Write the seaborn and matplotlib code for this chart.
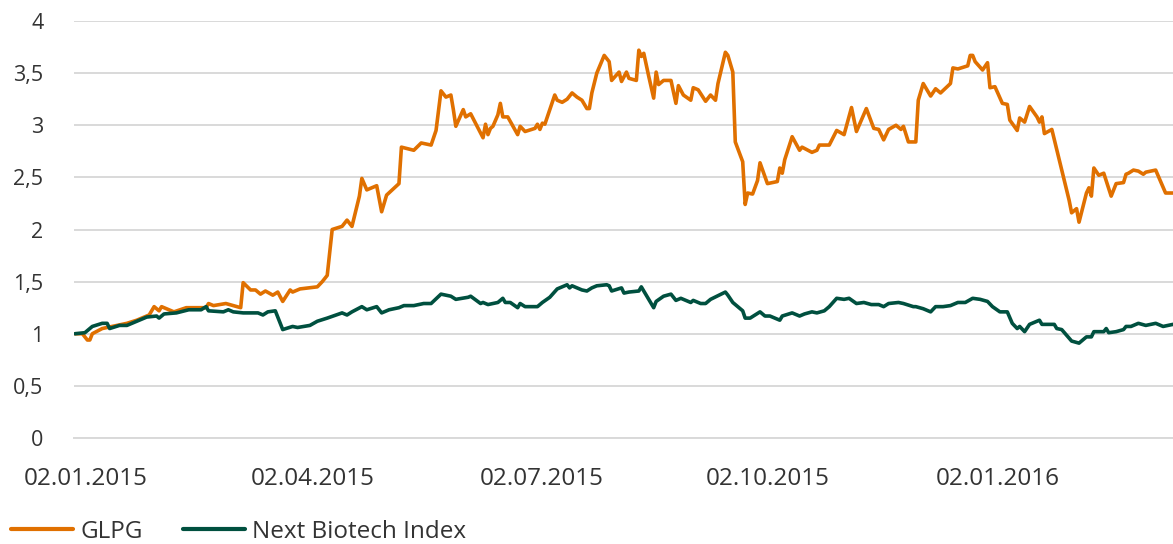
import matplotlib
matplotlib.use("Agg")
import matplotlib.pyplot as plt
import matplotlib.dates as mdates
import matplotlib.transforms as mtransforms
from matplotlib.ticker import FuncFormatter
import seaborn as sns
import pandas as pd

sns.set_style("white")
plt.rcParams['font.family'] = ['Open Sans', 'DejaVu Sans']

start = pd.Timestamp("2015-01-02")

# days since 02.01.2015
glpg_days = [0, 3, 5, 6, 7, 11, 15, 21, 25, 30, 32, 34, 35, 40, 45, 53, 54, 56, 61, 64, 67, 68, 71, 73, 75,
             77, 80, 82, 84, 87, 88, 91, 98, 100, 102, 104, 108, 110, 112, 115, 116, 118, 122, 124, 126,
             131, 132, 137, 140, 144, 146, 148, 150, 152, 153, 154, 157, 158, 160, 165, 166, 167, 168, 169,
             171, 172, 173, 175, 179, 180, 182, 186, 187, 188, 189, 190, 192, 194, 195, 197, 199, 201, 203,
             205, 207, 208, 209, 211, 214, 216, 217, 220, 221, 223, 224, 227, 228, 229, 230, 232, 234, 235,
             236, 238, 241, 243, 244, 246, 249, 250, 252, 255, 257, 259, 260, 263, 264, 266, 267, 270, 271,
             272, 274, 276, 277, 280, 284, 285, 286, 287, 290, 293, 294, 298, 300, 301, 305, 308, 311, 314,
             316, 320, 323, 325, 327, 329, 332, 334, 335, 337, 340, 341, 343, 346, 348, 350, 354, 355, 357,
             361, 362, 363, 364, 367, 369, 370, 372, 375, 377, 378, 381, 382, 384, 386, 389, 390, 391, 392,
             395, 398, 402, 403, 405, 406, 409, 410, 411, 412, 414, 416, 419, 421, 424, 425, 426, 428, 430,
             432, 433, 437, 439, 441, 444]
glpg_vals = [1.00, 1.00, 0.94, 0.94, 1.00, 1.05, 1.07, 1.10, 1.13, 1.18, 1.26, 1.22, 1.26, 1.21, 1.25, 1.25,
             1.29, 1.27, 1.29, 1.27, 1.25, 1.49, 1.42, 1.42, 1.38, 1.41, 1.37, 1.40, 1.31, 1.42, 1.40, 1.43,
             1.45, 1.50, 1.56, 2.00, 2.03, 2.09, 2.03, 2.32, 2.49, 2.38, 2.42, 2.17, 2.33, 2.44, 2.79, 2.76,
             2.83, 2.81, 2.95, 3.33, 3.27, 3.29, 3.15, 2.99, 3.15, 3.08, 3.11, 2.88, 3.01, 2.91, 2.97, 2.99,
             3.10, 3.21, 3.08, 3.08, 2.91, 2.99, 2.94, 2.97, 3.01, 2.96, 3.02, 3.01, 3.15, 3.29, 3.24, 3.22,
             3.25, 3.31, 3.27, 3.24, 3.16, 3.16, 3.31, 3.50, 3.67, 3.61, 3.43, 3.51, 3.42, 3.51, 3.45, 3.43,
             3.72, 3.66, 3.69, 3.47, 3.26, 3.51, 3.39, 3.43, 3.43, 3.21, 3.38, 3.29, 3.24, 3.36, 3.34, 3.23,
             3.29, 3.24, 3.40, 3.70, 3.67, 3.51, 2.84, 2.65, 2.24, 2.35, 2.34, 2.47, 2.64, 2.44, 2.46, 2.59,
             2.54, 2.67, 2.89, 2.76, 2.79, 2.74, 2.76, 2.81, 2.81, 2.95, 2.91, 3.17, 2.94, 3.16, 2.97, 2.96,
             2.86, 2.96, 3.00, 2.96, 2.99, 2.84, 2.84, 3.24, 3.40, 3.28, 3.35, 3.31, 3.40, 3.55, 3.54, 3.57,
             3.67, 3.67, 3.61, 3.53, 3.60, 3.36, 3.37, 3.21, 3.20, 3.05, 2.95, 3.07, 3.03, 3.18, 3.08, 3.03,
             3.08, 2.92, 2.96, 2.67, 2.28, 2.16, 2.20, 2.07, 2.35, 2.40, 2.32, 2.59, 2.52, 2.54, 2.32, 2.44,
             2.45, 2.53, 2.54, 2.57, 2.56, 2.53, 2.55, 2.57, 2.46, 2.35, 2.35]

nbi_days = [0, 4, 7, 11, 13, 14, 18, 21, 26, 29, 33, 34, 36, 41, 46, 51, 53, 54, 60, 62, 64, 68, 74, 76, 78,
            81, 84, 88, 90, 95, 98, 102, 108, 110, 112, 116, 118, 122, 124, 127, 131, 133, 137, 141, 144,
            148, 152, 154, 159, 160, 164, 165, 167, 171, 173, 174, 176, 179, 180, 182, 187, 189, 192, 195,
            199, 200, 201, 205, 207, 209, 211, 215, 216, 217, 221, 222, 224, 228, 229, 231, 234, 235, 238,
            241, 243, 245, 249, 250, 253, 255, 257, 263, 264, 266, 270, 271, 273, 277, 279, 281, 285, 286,
            290, 293, 295, 298, 300, 303, 305, 308, 311, 313, 316, 319, 322, 325, 327, 329, 333, 335, 339,
            340, 343, 346, 348, 351, 354, 357, 360, 363, 366, 369, 371, 374, 377, 379, 381, 382, 384, 386,
            390, 391, 396, 397, 399, 403, 406, 409, 411, 412, 416, 417, 418, 421, 424, 425, 427, 430, 433,
            437, 440, 444]
nbi_vals = [1.00, 1.01, 1.07, 1.10, 1.10, 1.05, 1.08, 1.08, 1.13, 1.16, 1.17, 1.15, 1.19, 1.20, 1.23, 1.23,
            1.26, 1.22, 1.21, 1.23, 1.21, 1.20, 1.20, 1.18, 1.21, 1.22, 1.04, 1.07, 1.06, 1.08, 1.12, 1.15,
            1.20, 1.18, 1.21, 1.26, 1.23, 1.26, 1.20, 1.23, 1.25, 1.27, 1.27, 1.29, 1.29, 1.38, 1.36, 1.33,
            1.35, 1.36, 1.29, 1.30, 1.28, 1.30, 1.34, 1.30, 1.30, 1.25, 1.29, 1.26, 1.26, 1.30, 1.35, 1.43,
            1.47, 1.44, 1.46, 1.42, 1.41, 1.44, 1.46, 1.47, 1.46, 1.41, 1.44, 1.39, 1.40, 1.41, 1.45, 1.37,
            1.25, 1.31, 1.36, 1.38, 1.32, 1.34, 1.30, 1.32, 1.29, 1.29, 1.33, 1.40, 1.37, 1.30, 1.22, 1.15,
            1.15, 1.21, 1.17, 1.17, 1.13, 1.17, 1.20, 1.17, 1.19, 1.21, 1.20, 1.22, 1.26, 1.34, 1.33, 1.34,
            1.29, 1.30, 1.28, 1.28, 1.26, 1.29, 1.30, 1.29, 1.26, 1.26, 1.24, 1.21, 1.26, 1.26, 1.27, 1.30,
            1.30, 1.34, 1.33, 1.31, 1.26, 1.21, 1.21, 1.10, 1.05, 1.07, 1.02, 1.09, 1.13, 1.09, 1.09, 1.05,
            1.04, 0.93, 0.91, 0.97, 0.97, 1.02, 1.02, 1.05, 1.01, 1.02, 1.04, 1.07, 1.07, 1.10, 1.08, 1.10,
            1.07, 1.09]

tick_dates = ["2015-01-02", "2015-04-02", "2015-07-02", "2015-10-02", "2016-01-02"]
y_ticks = [0, 0.5, 1, 1.5, 2, 2.5, 3, 3.5, 4]
series = ["GLPG", "Next Biotech Index"]
colors = ["#e07000", "#00503f"]

df = pd.concat([
    pd.DataFrame({"date": start + pd.to_timedelta(glpg_days, unit="D"), "value": glpg_vals, "series": series[0]}),
    pd.DataFrame({"date": start + pd.to_timedelta(nbi_days, unit="D"), "value": nbi_vals, "series": series[1]}),
])

fig = plt.figure(figsize=(11.73, 5.44), dpi=100)
ax = fig.add_axes([74 / 1173, 1 - 438 / 544, 1 - 74 / 1173, 417 / 544])

sns.lineplot(data=df, x="date", y="value", hue="series", palette=dict(zip(series, colors)),
             linewidth=2.6, ax=ax, estimator=None, sort=True)

ax.set_ylim(0, 4)
ax.set_xlim(start - pd.Timedelta(days=0.4), start + pd.Timedelta(days=444))
ax.set_yticks(y_ticks)
ax.yaxis.set_major_formatter(FuncFormatter(lambda v, p: f"{v:g}".replace(".", ",")))
ax.set_xticks(pd.to_datetime(tick_dates))
ax.xaxis.set_major_formatter(mdates.DateFormatter("%d.%m.%Y"))
ax.grid(axis="y", color="#d9d9d9", linewidth=1.4)
ax.set_axisbelow(True)
for s in ["top", "right", "left"]:
    ax.spines[s].set_visible(False)
ax.spines["bottom"].set_color("#d9d9d9")
ax.spines["bottom"].set_linewidth(1.4)
ax.tick_params(axis="x", direction="out", length=7, width=1.4, color="#d9d9d9",
               labelsize=17.5, labelcolor="#333333", pad=14)
ax.tick_params(axis="y", length=0, labelsize=15.5, labelcolor="#333333", pad=22)
ax.set_xlabel("")
ax.set_ylabel("")

# date labels sit a little right of their tick marks in the original
for lbl, dx in zip(ax.get_xticklabels(), [11, 15, 19, 18, 20]):
    lbl.set_transform(lbl.get_transform() + mtransforms.ScaledTranslation(dx / 100, 0, fig.dpi_scale_trans))

handles, labels = ax.get_legend_handles_labels()
for h in handles:
    h.set_linewidth(3)
ax.legend(handles, labels, loc="center left", bbox_to_anchor=(11 / 1173, 12 / 544), bbox_transform=fig.transFigure,
          ncol=2, frameon=False, fontsize=17.5, handlelength=2.55, handletextpad=0.3, columnspacing=1.65,
          borderpad=0, borderaxespad=0, labelcolor="#333333")

fig.savefig("out.png", dpi=100)
